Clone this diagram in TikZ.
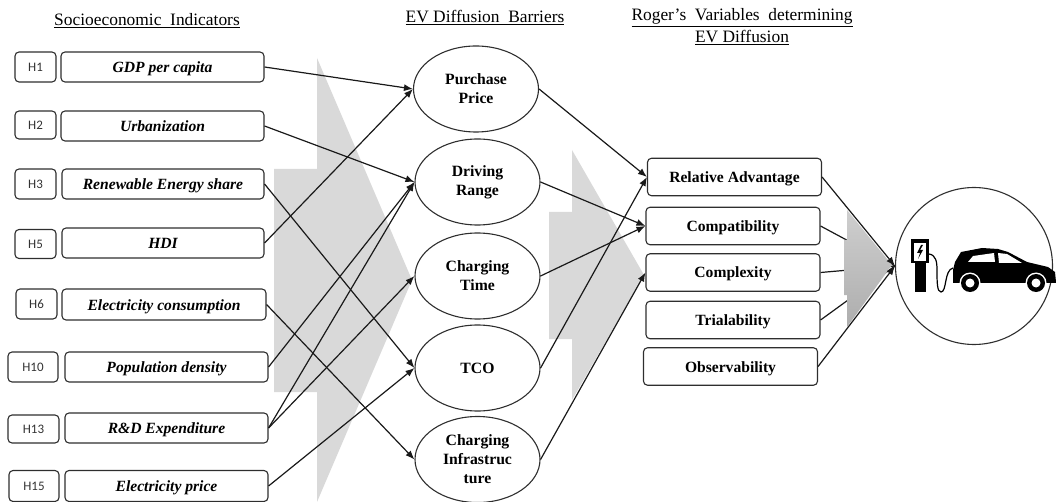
\documentclass[tikz,border=0pt]{standalone}
\usepackage{fontspec}
\setmainfont{Liberation Serif}
\newfontfamily\hypfont{Carlito}
\usetikzlibrary{shapes.geometric}
\usetikzlibrary{arrows.meta}
\definecolor{chevron}{gray}{0.85}
\definecolor{outline}{gray}{0.18}
\tikzset{
	hypbox/.style={draw=outline,line width=1.1pt,rounded corners=4pt,font=\hypfont\fontsize{13}{15}\selectfont,text=black!80,inner sep=0pt},
	indbox/.style={draw=outline,line width=1.1pt,rounded corners=4pt,font=\fontsize{15.6}{18}\selectfont\bfseries\itshape,inner sep=0pt,text height=11pt,text depth=0pt},
	barrier/.style={draw=outline,line width=1.1pt,ellipse,minimum width=125pt,minimum height=86pt,inner sep=0pt,align=center,font=\fontsize{15.7}{19}\selectfont\bfseries},
	varbox/.style={draw=outline,line width=1.1pt,rounded corners=4pt,minimum width=174pt,minimum height=37.5pt,inner sep=0pt,font=\fontsize{15.6}{18}\selectfont\bfseries,text height=11pt,text depth=0pt},
	header/.style={align=center,inner sep=0pt,font=\fontsize{17.4}{22}\selectfont},
	link/.style={draw=black!90,line width=1.2pt,-{Latex[length=9pt,width=7pt]}},
	plainlink/.style={draw=black!90,line width=1.2pt}
}
\begin{document}
\begin{tikzpicture}[x=1pt,y=-1pt]
	\useasboundingbox (0,0) rectangle (1056,502);
	\fill[chevron] (274,169) -- (317,169) -- (317,58) -- (412,280) -- (317,502) -- (317,392) -- (274,392) -- cycle;
	\fill[chevron] (549,212) -- (572,212) -- (572,150) -- (644,275) -- (572,400) -- (572,339) -- (549,339) -- cycle;
	\node[header] (headind) at (147,21) {\underline{Socioeconomic\ \ Indicators}};
	\node[header] (headbar) at (485,18) {\underline{EV Diffusion\ \ Barriers}};
	\node[header] (headvar) at (742,27) {\underline{Roger's\ \ Variables\ \ determining}\\\underline{EV Diffusion}};
	\node[hypbox,minimum width=41pt,minimum height=30pt] (hone) at (35.5,67) {H1};
	\node[hypbox,minimum width=41pt,minimum height=28pt] (htwo) at (35.5,125) {H2};
	\node[hypbox,minimum width=41pt,minimum height=30pt] (hthree) at (35.5,184) {H3};
	\node[hypbox,minimum width=41pt,minimum height=29pt] (hfive) at (35.5,244) {H5};
	\node[hypbox,minimum width=41pt,minimum height=30pt] (hsix) at (36.5,304) {H6};
	\node[hypbox,minimum width=50pt,minimum height=30pt] (hten) at (33,367) {H10};
	\node[hypbox,minimum width=51pt,minimum height=28pt] (hthirteen) at (33.5,429) {H13};
	\node[hypbox,minimum width=50pt,minimum height=31pt] (hfifteen) at (34,486) {H15};
	\node[indbox,minimum width=203pt,minimum height=30pt] (gdp) at (162.5,67) {GDP per capita};
	\node[indbox,minimum width=203pt,minimum height=30pt] (urban) at (162.5,126) {Urbanization};
	\node[indbox,minimum width=202pt,minimum height=30pt] (renew) at (163,184) {Renewable Energy share};
	\node[indbox,minimum width=202pt,minimum height=30pt] (hdi) at (163,243) {HDI};
	\node[indbox,minimum width=204pt,minimum height=31pt] (elec) at (164,304.5) {Electricity consumption};
	\node[indbox,minimum width=203pt,minimum height=30pt] (pop) at (166.5,367) {Population density};
	\node[indbox,minimum width=203pt,minimum height=30pt] (rnd) at (166.5,428) {R\&D Expenditure};
	\node[indbox,minimum width=203pt,minimum height=31pt] (price) at (166.5,486) {Electricity price};
	\node[barrier] (purchase) at (476,89) {Purchase\\Price};
	\node[barrier] (range) at (477.5,182) {Driving\\Range};
	\node[barrier] (time) at (477.5,276) {Charging\\Time};
	\node[barrier] (tco) at (477.5,368) {TCO};
	\node[barrier] (infra) at (477.5,459.5) {Charging\\Infrastruc\\ture};
	\node[varbox] (relative) at (734.5,177) {Relative Advantage};
	\node[varbox] (compat) at (733,226) {Compatibility};
	\node[varbox] (complex) at (733,272.5) {Complexity};
	\node[varbox] (trial) at (733,320) {Trialability};
	\node[varbox] (observ) at (730.5,366.5) {Observability};
	\node[draw=outline,line width=1.1pt,circle,minimum size=157pt,inner sep=0pt] (evcircle) at (974,266) {};
	\draw[link] (gdp.east) -- (purchase.west);
	\draw[link] (hdi.east) -- (purchase.west);
	\draw[link] (urban.east) -- (range.west);
	\draw[link] (pop.east) -- (range.west);
	\draw[link] (rnd.east) -- (range.west);
	\draw[link] (rnd.east) -- (time.west);
	\draw[link] (renew.east) -- (tco.west);
	\draw[link] (price.east) -- (tco.west);
	\draw[link] (elec.east) -- (infra.west);
	\draw[link] (purchase.east) -- (relative.west);
	\draw[link] (tco.east) -- (relative.west);
	\draw[link] (range.east) -- (compat.west);
	\draw[link] (time.east) -- (compat.west);
	\draw[link] (infra.east) -- (complex.west);
	\draw[plainlink] (compat.east) -- (evcircle.west);
	\draw[plainlink] (complex.east) -- (evcircle.west);
	\draw[plainlink] (trial.east) -- (evcircle.west);
	\shade[top color=black!19,bottom color=black!32] (847,210) -- (892,265) -- (847,327) -- (847,295) -- (844,295) -- (844,240) -- (847,240) -- cycle;
	\draw[link] (relative.east) -- (evcircle.west);
	\draw[link] (observ.east) -- (evcircle.west);
	\fill (911,239) rectangle (929,263);
	\fill (915,263) rectangle (926,292);
	\fill[white] (914,243) rectangle (926,261);
	\fill (921,245) -- (917,253) -- (920,253) -- (918,259) -- (923,250) -- (920,250) -- (923,245) -- cycle;
	\draw[line width=1.2pt] (929,254) .. controls (936,255) and (937,262) .. (937,270) .. controls (937,282) and (937,292) .. (941,292) .. controls (947,292) and (944,270) .. (953,268);
	\fill (953,283) -- (953,270) -- (955,262) -- (961,252) -- (982,248) -- (998,249) -- (1008,252) -- (1027,262) -- (1048,267) -- (1055,272) -- (1056,282) -- (1056,283) -- cycle;
	\fill[white] (968,262) -- (973,256) -- (994,253) -- (995,262) -- cycle;
	\fill[white] (998,253) -- (1007,254) -- (1022,263) -- (999,263) -- cycle;
	\foreach \wheelx in {970,1036} {
		\fill[white] (\wheelx,283) circle (10.5);
		\fill (\wheelx,283) circle (9);
		\fill[white] (\wheelx,283) circle (4.5);
	}
\end{tikzpicture}
\end{document}
